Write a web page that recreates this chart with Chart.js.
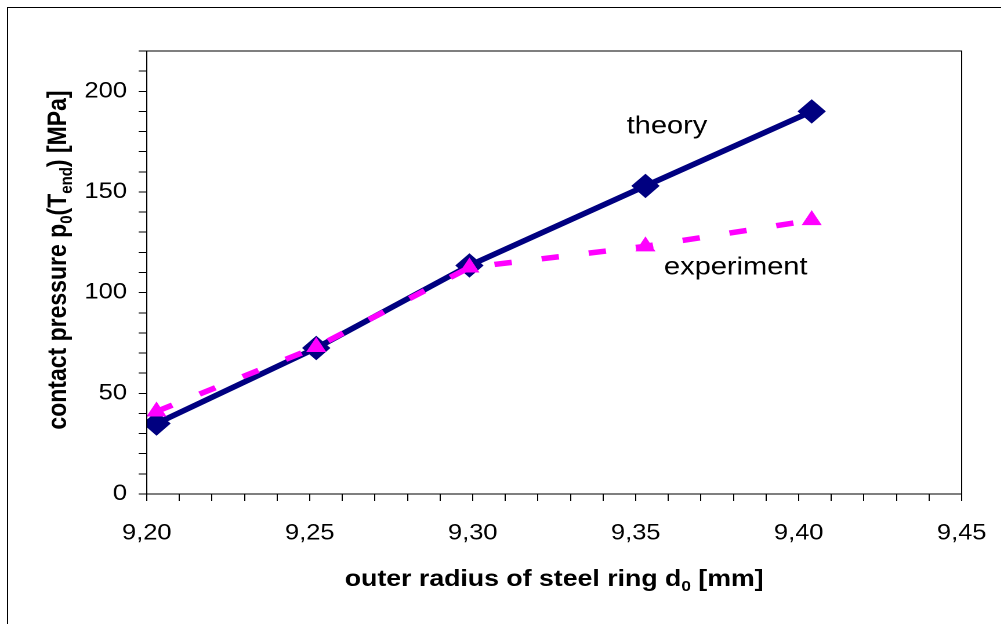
<!DOCTYPE html>
<html>
<head>
<meta charset="utf-8">
<script src="https://cdn.jsdelivr.net/npm/chart.js@4/dist/chart.umd.min.js"></script>
<style>
  html, body { margin: 0; padding: 0; background: #fff; overflow: hidden; }
  #wrap { width: 1001px; height: 624px; position: relative; overflow: hidden; }
  #inner { position: absolute; left: 0; top: 0; width: 863px; height: 624px;
           transform: scaleX(1.16); transform-origin: 0 0; }
</style>
</head>
<body>
<div id="wrap"><div id="inner"><canvas id="c" width="863" height="624"></canvas></div></div>
<script>
// ---- data ----
const ringRadius = [9.203, 9.252, 9.299, 9.353, 9.404];
const theoryPressure = [35, 72.5, 113.5, 153, 190];
const experimentPressure = [41, 73, 112.5, 123, 136];
const xTickValues = [9.20, 9.25, 9.30, 9.35, 9.40, 9.45];
const yTickValues = [0, 50, 100, 150, 200];
const seriesNames = ['theory', 'experiment'];

const FONT = '"Liberation Sans", Arial, sans-serif';

function pts(xs, ys) { return xs.map((x, i) => ({ x: x, y: ys[i] })); }

// in-chart series labels (data coordinates)
const seriesLabels = [
  { text: seriesNames[0], x: 9.3596, y: 179 },
  { text: seriesNames[1], x: 9.3807, y: 109 }
];

function drawRich(ctx, segs, cx, cy, size, subSize, rotate) {
  ctx.save();
  ctx.translate(cx, cy);
  if (rotate) ctx.rotate(-Math.PI / 2);
  let total = 0;
  segs.forEach(s => {
    ctx.font = 'bold ' + (s.sub ? subSize : size) + 'px ' + FONT;
    s.w = ctx.measureText(s.t).width;
    total += s.w;
  });
  let x = -total / 2;
  ctx.fillStyle = '#000';
  ctx.textBaseline = 'alphabetic';
  ctx.textAlign = 'left';
  segs.forEach(s => {
    ctx.font = 'bold ' + (s.sub ? subSize : size) + 'px ' + FONT;
    ctx.fillText(s.t, x, s.sub ? 5 : 0);
    x += s.w;
  });
  ctx.restore();
}

const decor = {
  id: 'decor',
  beforeDraw(chart) {
    const ctx = chart.ctx;
    ctx.save();
    ctx.fillStyle = '#fff';
    ctx.fillRect(0, 0, chart.width, chart.height);
    ctx.strokeStyle = '#000';
    ctx.lineWidth = 1;
    ctx.beginPath();
    ctx.moveTo(6.5, chart.height + 5);
    ctx.lineTo(6.5, 7.5);
    ctx.lineTo(chart.width + 5, 7.5);
    ctx.stroke();
    ctx.restore();
  },
  afterDatasetsDraw(chart) {
    const ctx = chart.ctx;
    const a = chart.chartArea;
    ctx.save();
    ctx.strokeStyle = '#000';
    ctx.lineWidth = 1;
    ctx.strokeRect(a.left, a.top, a.right - a.left, a.bottom - a.top);
    const xs = chart.scales.x, ys = chart.scales.y;
    ctx.fillStyle = '#000';
    ctx.font = '25px ' + FONT;
    ctx.textAlign = 'center';
    ctx.textBaseline = 'alphabetic';
    seriesLabels.forEach(l => {
      ctx.fillText(l.text, xs.getPixelForValue(l.x), ys.getPixelForValue(l.y));
    });
    ctx.restore();
    const midX = (a.left + a.right) / 2;
    drawRich(ctx, [{ t: 'outer radius of steel ring d' }, { t: '0', sub: true }, { t: ' [mm]' }],
      midX, 586, 23, 15, false);
    drawRich(ctx, [{ t: 'contact pressure p' }, { t: '0', sub: true }, { t: '(T' }, { t: 'end', sub: true }, { t: ') [MPa]' }],
      57, 260, 23, 15, true);
  }
};

new Chart(document.getElementById('c'), {
  type: 'scatter',
  data: {
    datasets: [
      {
        label: seriesNames[0],
        data: pts(ringRadius, theoryPressure),
        showLine: true,
        borderColor: '#000080',
        backgroundColor: '#000080',
        borderWidth: 5.5,
        pointStyle: 'rectRot',
        pointRadius: 11.5,
        pointBorderWidth: 1,
        pointBackgroundColor: '#000080',
        pointBorderColor: '#000080',
        order: 2
      },
      {
        label: seriesNames[1],
        data: pts(ringRadius, experimentPressure),
        showLine: true,
        borderColor: '#FF00FF',
        backgroundColor: '#FF00FF',
        borderWidth: 5.5,
        borderDash: [15, 26],
        pointStyle: 'triangle',
        pointRadius: 8,
        pointBorderWidth: 2,
        pointBackgroundColor: '#FF00FF',
        pointBorderColor: '#FF00FF',
        order: 1
      }
    ]
  },
  options: {
    responsive: false,
    animation: false,
    devicePixelRatio: 2,
    layout: { padding: { left: 26.5, top: 51, right: 34, bottom: 70 } },
    plugins: { legend: { display: false }, tooltip: { enabled: false } },
    scales: {
      x: {
        type: 'linear',
        min: xTickValues[0],
        max: xTickValues[xTickValues.length - 1],
        afterFit(s) { s.height = 60; },
        afterBuildTicks(s) {
          const t = [];
          for (let i = 0; i <= 25; i++) t.push({ value: +(9.2 + i * 0.01).toFixed(2) });
          s.ticks = t;
        },
        ticks: {
          autoSkip: false,
          maxRotation: 0,
          padding: 2,
          color: '#000',
          font: { family: FONT, size: 22, lineHeight: 2.745 },
          callback(v) {
            const hit = xTickValues.find(t => Math.abs(t - v) < 1e-6);
            return hit !== undefined ? hit.toFixed(2).replace('.', ',') : '';
          }
        },
        grid: { drawOnChartArea: false, tickLength: 7, color: '#000', tickColor: '#000' },
        border: { color: '#000', width: 1 }
      },
      y: {
        type: 'linear',
        min: 0,
        max: 220,
        afterFit(s) { s.width = 100; },
        afterBuildTicks(s) {
          const t = [];
          for (let v = 0; v <= 220; v += 10) t.push({ value: v });
          s.ticks = t;
        },
        ticks: {
          autoSkip: false,
          padding: 10,
          color: '#000',
          font: { family: FONT, size: 22 },
          callback(v) { return yTickValues.includes(v) ? String(v) : ''; }
        },
        grid: { drawOnChartArea: false, tickLength: 7, color: '#000', tickColor: '#000' },
        border: { color: '#000', width: 1 }
      }
    }
  },
  plugins: [decor]
});
</script>
</body>
</html>
